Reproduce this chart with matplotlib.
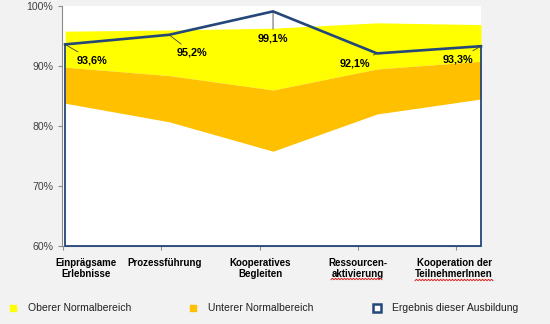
import numpy as np
import matplotlib
matplotlib.use("Agg")
import matplotlib.pyplot as plt
from matplotlib.lines import Line2D

plt.rcParams["font.family"] = ["Liberation Sans", "DejaVu Sans"]

categories = ["Einprägsame\nErlebnisse", "Prozessführung", "Kooperatives\nBegleiten",
              "Ressourcen-\naktivierung", "Kooperation der\nTeilnehmerInnen"]
upper_top = [95.8, 96.0, 96.3, 97.2, 96.9]      # Oberer Normalbereich (top)
band_mid = [89.8, 88.4, 86.0, 89.5, 90.8]       # border yellow / orange
lower_bottom = [83.8, 80.7, 75.8, 82.0, 84.5]   # Unterer Normalbereich (bottom)
result = [93.6, 95.2, 99.1, 92.1, 93.3]         # Ergebnis dieser Ausbildung
result_labels = ["93,6%", "95,2%", "99,1%", "92,1%", "93,3%"]
y_ticks = [60, 70, 80, 90, 100]

BG = "#f2f2f2"
YELLOW = "#ffff00"
ORANGE = "#ffc000"
BLUE = "#24477a"
GREY = "#8c8c8c"

fig = plt.figure(figsize=(5.5, 3.24), dpi=100, facecolor=BG)
ax = fig.add_axes([63 / 550, 1 - 246 / 324, 418 / 550, 240 / 324])
ax.set_facecolor("white")

x = np.arange(len(result))
ax.fill_between(x, band_mid, upper_top, color=YELLOW, lw=0)
ax.fill_between(x, lower_bottom, band_mid, color=ORANGE, lw=0)

# result area outline (Excel area series without fill)
ax.plot(x, result, color=BLUE, lw=1.9, solid_joinstyle="miter", clip_on=False, zorder=5)
ax.plot([0, 0, 4, 4], [result[0], 60, 60, result[-1]], color=BLUE, lw=1.3,
        clip_on=False, zorder=5)

# data labels with leader lines
offsets = [(12, -16, "left"), (8, -18, "left"), (0, -27, "center"),
           (-7, -10, "right"), (-8, -13, "right")]
for xi, yi, lab, (dx, dy, ha) in zip(x, result, result_labels, offsets):
    ax.annotate(lab, (xi, yi), xytext=(dx, dy), textcoords="offset pixels",
                ha=ha, va="center", fontsize=7.8, fontweight="bold", color="black",
                arrowprops=dict(arrowstyle="-", color="#404040", lw=0.6,
                                shrinkA=1, shrinkB=0), zorder=6)

ax.set_xlim(0, 4)
ax.set_ylim(60, 100)
ax.set_yticks(y_ticks, [f"{t}%" for t in y_ticks])

# category axis is spaced slightly narrower than the plot (as in the original)
tick_pos = [-0.02 + 0.945 * i for i in range(len(categories))]
ax.set_xticks(tick_pos, [""] * len(tick_pos))
label_pos = [0.2, 0.957, 1.876, 2.814, 3.742]
for lx, cat in zip(label_pos, categories):
    ax.text(lx, -0.05, cat, transform=ax.get_xaxis_transform(), ha="center", va="top",
            fontsize=7, fontweight="bold", linespacing=1.15)

ax.tick_params(axis="both", length=3, color=GREY, width=0.8, pad=3,
               labelsize=7.6, labelcolor="#404040")
ax.tick_params(axis="x", direction="out")
for side in ["top", "right"]:
    ax.spines[side].set_visible(False)
for side in ["left", "bottom"]:
    ax.spines[side].set_color(GREY)
    ax.spines[side].set_linewidth(0.8)
ax.spines["left"].set_position(("outward", 1))

# red spell-check squiggles under two labels
def squiggle(x0, x1, y):
    xs = np.arange(x0, x1 + 0.1, 1.5)
    ys = y + np.where(np.arange(len(xs)) % 2 == 0, 0.7, -0.7)
    fig.add_artist(Line2D(xs / 550, 1 - ys / 324, color="#e02020", lw=0.7))

squiggle(331, 383, 279)
squiggle(415, 493, 280)

# legend
legend_items = [
    (13, "Oberer Normalbereich", dict(marker="s", ms=5, mfc=YELLOW, mec=YELLOW)),
    (193, "Unterer Normalbereich", dict(marker="s", ms=5, mfc=ORANGE, mec=ORANGE)),
    (377, "Ergebnis dieser Ausbildung", dict(marker="s", ms=5.5, mfc="white", mec=BLUE, mew=1.8)),
]
for px, text, style in legend_items:
    fig.add_artist(Line2D([px / 550], [1 - 308 / 324], ls="none", **style))
    fig.text((px + 15) / 550, 1 - 308 / 324, text, fontsize=7.5, va="center",
             ha="left", color="#202020")

fig.savefig("out.png", dpi=100, facecolor=BG)
